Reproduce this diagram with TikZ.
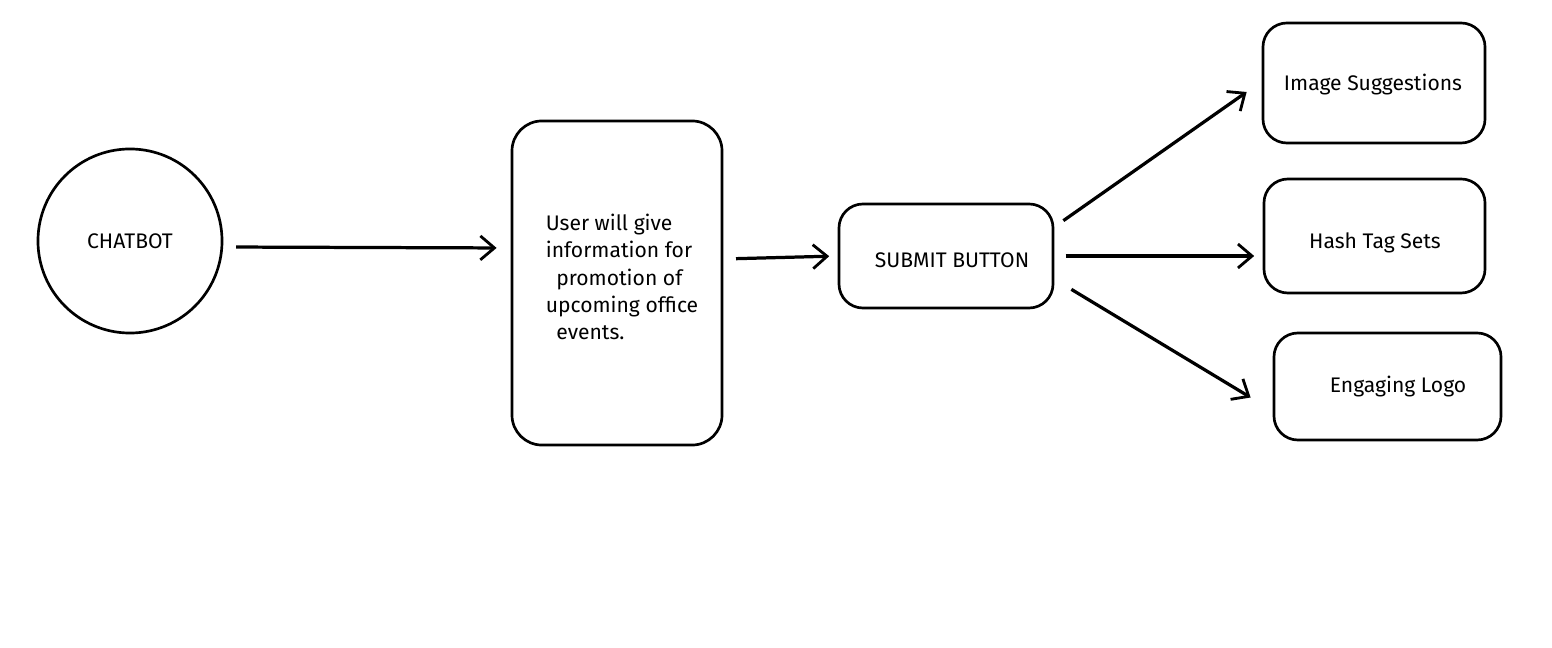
\documentclass[tikz,border=0pt]{standalone}
\usepackage{fontspec}
\setmainfont{Fira Sans}
\usetikzlibrary{arrows.meta, calc, positioning}

\tikzset{
    sketch/.style={draw, line width=1.9pt, rounded corners=0.6cm, align=left,
        font=\fontsize{15}{20}\selectfont, inner sep=0pt},
    flow/.style={-{Straight Barb[length=10pt, width=17pt, line width=2pt]}, line width=2.3pt}
}

\begin{document}
\begin{tikzpicture}[x=0.025cm, y=-0.025cm]
    \useasboundingbox (0, 0) rectangle (1552, 648);

    % Draw chatbot and input card
    \node[sketch, circle, minimum size=4.6cm, rounded corners=0pt] (chat) at (130, 241) {CHATBOT};
    \node[sketch, minimum width=5.25cm, minimum height=8.1cm, rounded corners=0.75cm] (user) at (617, 283) {};
    \node[align=left, font=\fontsize{15}{19.5}\selectfont] (info) at (622, 277)
        {User will give\\information for\\\hspace{0.5em}promotion of\\upcoming office\\\hspace{0.5em}events.};

    % Draw submit button
    \node[sketch, minimum width=5.35cm, minimum height=2.6cm] (submit) at (946, 256) {};
    \node[font=\fontsize{15}{20}\selectfont] (submitText) at (952, 260) {SUBMIT BUTTON};

    % Draw outputs
    \foreach \name/\x/\y/\w/\h/\tx/\ty/\txt in {
        img/1374/83/5.55/3.0/1373/85/Image Suggestions,
        hash/1374.5/236/5.525/2.85/1375/243/Hash Tag Sets,
        logo/1387.5/386.5/5.675/2.675/1398/387/Engaging Logo} {
        \node[sketch, minimum width=\w cm, minimum height=\h cm] (\name) at (\x, \y) {};
        \node[font=\fontsize{15}{20}\selectfont] (\name Text) at (\tx, \ty) {\txt};
    }

    % Draw arrows
    \draw[flow, shorten <=9pt, shorten >=10pt] ($(chat.east)+(0,6)$) -- ($(chat.east -| user.west)+(0,7)$);
    \draw[flow, shorten <=9pt, shorten >=6pt] ($(submit.west -| user.east)+(0,3)$) -- (submit.west);
    \draw[flow] ($(submit.north east)+(9,18)$) -- ($(img.west)+(-15,9)$);
    \draw[flow, shorten <=8pt, shorten >=6pt] (submit.east) -- (submit.east -| hash.west);
    \draw[flow] ($(submit.south east)+(17,-20)$) -- ($(logo.west)+(-22,11)$);
\end{tikzpicture}
\end{document}
